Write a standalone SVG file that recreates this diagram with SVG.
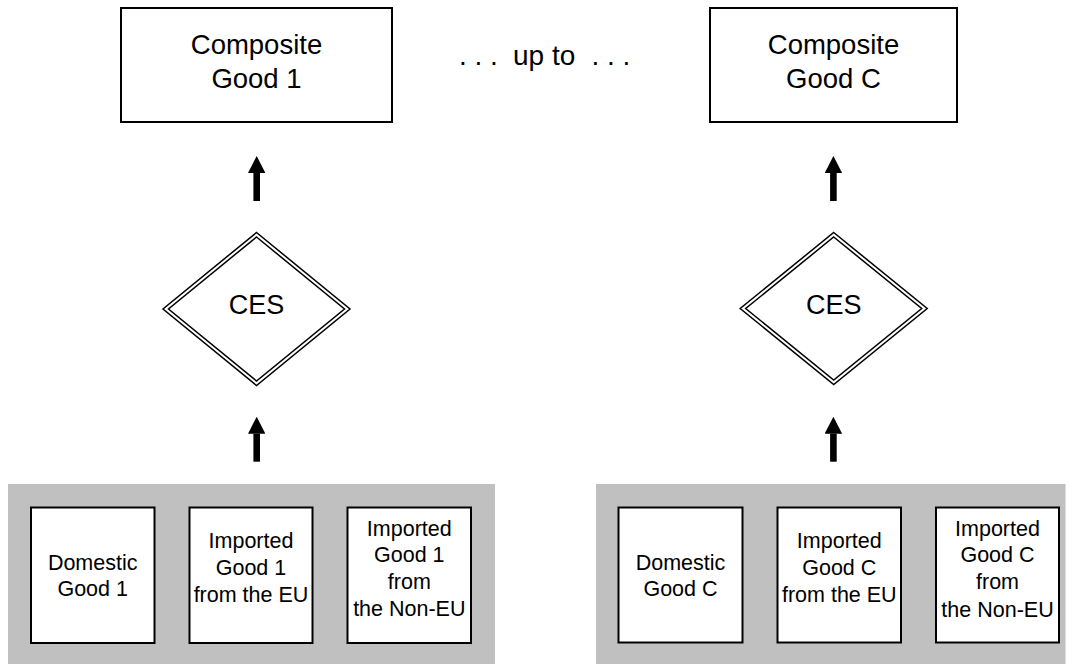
<svg xmlns="http://www.w3.org/2000/svg" width="1075" height="664" viewBox="0 0 1075 664">
<style>
.box{fill:#fff;stroke:#000;stroke-width:2}
.panel{fill:#c0c0c0;stroke:none}
.dia{fill:none;stroke:#000;stroke-width:1.5}
.big{font-family:"Liberation Sans",Arial,sans-serif;font-size:27.5px;fill:#000;text-anchor:middle}
.ces{font-family:"Liberation Sans",Arial,sans-serif;font-size:27px;fill:#000;text-anchor:middle}
.sm{font-family:"Liberation Sans",Arial,sans-serif;font-size:21.5px;fill:#000;text-anchor:middle}
.dots{font-family:"Liberation Sans",Arial,sans-serif;font-size:28px;fill:#000;white-space:pre}
.arr{fill:none;stroke:#000;stroke-width:6.6}
</style>
<defs>
<marker id="ah" viewBox="0 0 17 17.4" refX="0" refY="8.7" markerWidth="17" markerHeight="17.4" markerUnits="userSpaceOnUse" orient="auto">
<path d="M0,0 L17,8.7 L0,17.4 z" fill="#000"/>
</marker>
</defs>
<rect id="bg" x="0" y="0" width="1075" height="664" fill="#fff"/>

<g id="composite1">
<rect class="box" x="121" y="8" width="271" height="114"/>
<text class="big" x="256.5" y="54">Composite</text>
<text class="big" x="256.5" y="87.5">Good 1</text>
</g>
<g id="upto">
<text class="dots" x="459" y="65">. . .</text>
<text class="dots" x="513" y="65">up to</text>
<text class="dots" x="591.5" y="65">. . .</text>
</g>
<g id="compositeC">
<rect class="box" x="710" y="8" width="247" height="114"/>
<text class="big" x="833.5" y="54">Composite</text>
<text class="big" x="833.5" y="87.5">Good C</text>
</g>

<g id="ces1">
<polygon class="dia" points="256.5,232.5 350,309 256.5,385.5 163,309"/>
<polygon class="dia" points="256.5,237 344.5,309 256.5,381 168.5,309"/>
<text class="ces" x="256.5" y="314.3">CES</text>
</g>
<g id="cesC">
<polygon class="dia" points="833.7,232.5 927.2,308.5 833.7,384.5 740.2,308.5"/>
<polygon class="dia" points="833.7,237 921.7,308.5 833.7,380 745.7,308.5"/>
<text class="ces" x="833.7" y="314.3">CES</text>
</g>

<g id="panel1">
<rect class="panel" x="8" y="484" width="487" height="180"/>
</g>
<g id="domestic1">
<rect class="box" x="31" y="507.5" width="123.5" height="135.5"/>
<text class="sm" x="92.7" y="570">Domestic</text>
<text class="sm" x="92.7" y="596">Good 1</text>
</g>
<g id="importEU1">
<rect class="box" x="189.5" y="507.5" width="123" height="135.5"/>
<text class="sm" x="251" y="547.5">Imported</text>
<text class="sm" x="251" y="574.5">Good 1</text>
<text class="sm" x="251" y="601.5">from the EU</text>
</g>
<g id="importNonEU1">
<rect class="box" x="347.5" y="507.5" width="123.5" height="135.5"/>
<text class="sm" x="409.3" y="535.5">Imported</text>
<text class="sm" x="409.3" y="561.5">Good 1</text>
<text class="sm" x="409.3" y="588.5">from</text>
<text class="sm" x="409.3" y="616">the Non-EU</text>
</g>

<g id="panelC">
<rect class="panel" x="596" y="484" width="469.5" height="180"/>
</g>
<g id="domesticC">
<rect class="box" x="618.5" y="507.5" width="124" height="135"/>
<text class="sm" x="680.5" y="570">Domestic</text>
<text class="sm" x="680.5" y="596">Good C</text>
</g>
<g id="importEUC">
<rect class="box" x="777.5" y="507.5" width="123.5" height="135"/>
<text class="sm" x="839.3" y="547.5">Imported</text>
<text class="sm" x="839.3" y="574.5">Good C</text>
<text class="sm" x="839.3" y="601.5">from the EU</text>
</g>
<g id="importNonEUC">
<rect class="box" x="936" y="507.5" width="123" height="135"/>
<text class="sm" x="997.5" y="535.5">Imported</text>
<text class="sm" x="997.5" y="561.5">Good C</text>
<text class="sm" x="997.5" y="589">from</text>
<text class="sm" x="997.5" y="616.5">the Non-EU</text>
</g>

<g id="connectors">
<path class="arr" d="M256.7,201 L256.7,173" marker-end="url(#ah)"/>
<path class="arr" d="M256.7,461.7 L256.7,433.7" marker-end="url(#ah)"/>
<path class="arr" d="M833.4,201 L833.4,173" marker-end="url(#ah)"/>
<path class="arr" d="M833.4,461.7 L833.4,433.7" marker-end="url(#ah)"/>
</g>
</svg>
